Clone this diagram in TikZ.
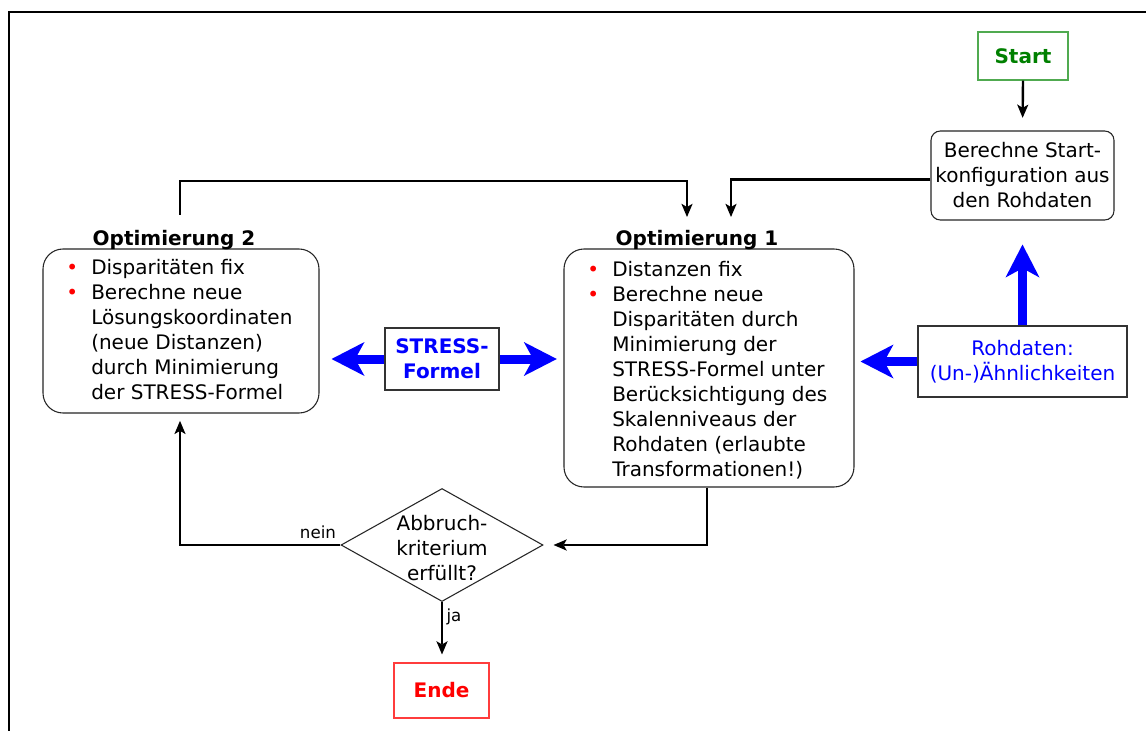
\documentclass[tikz,border=0pt]{standalone}
\usepackage{fontspec}
\setmainfont{DejaVu Sans}
\usetikzlibrary{arrows.meta,shapes.geometric}
\definecolor{myblue}{RGB}{0,0,255}
\definecolor{mygreen}{RGB}{0,128,0}
\definecolor{greenline}{RGB}{80,170,80}
\definecolor{myred}{RGB}{255,0,0}
\definecolor{redline}{RGB}{255,60,60}
\newcommand{\bitem}{\makebox[18.75pt][l]{\textcolor{red}{•}}}
\newcommand{\bcont}{\hspace*{18.75pt}}
\begin{document}
\begin{tikzpicture}[x=0.75pt,y=-0.75pt,
  txt/.style={font=\fontsize{15}{18.75}\selectfont},
  box/.style={draw=black!85, line width=0.8pt, rectangle, inner sep=0pt, txt, align=center},
  conn/.style={draw=black, line width=1.8pt, -{Stealth[length=10pt,width=8.5pt,inset=2.5pt,line width=0pt]}},
  big/.style={draw=myblue, line width=6.75pt, -{Stealth[length=24.75pt,width=25.5pt,inset=7pt,line width=0pt]}},
  lbl/.style={font=\fontsize{12.5}{15}\selectfont, inner sep=0pt},
]
\useasboundingbox (0,0) rectangle (1146,731);
\fill[white] (0,0) rectangle (1146,731);
% frame
\draw[line width=1.6pt] (9.3,731) -- (9.3,11.8) -- (1146,11.8);

% nodes
\node[box, draw=greenline, text=mygreen, font=\fontsize{15}{18.75}\selectfont\bfseries,
      minimum width=67.5pt, minimum height=36pt] (start) at (1023,56) {Start};
\node[box, rounded corners=7pt, minimum width=137.25pt, minimum height=66.75pt] (calc) at (1022.5,175.5)
  {Berechne Start-\\konfiguration aus\\den Rohdaten};

\node[box, rounded corners=15pt, minimum width=207pt, minimum height=123pt] (opt2) at (181,331) {};
\node[box, rounded corners=15pt, minimum width=217.5pt, minimum height=178.5pt] (opt1) at (709,368) {};

\node[txt, font=\fontsize{15}{18.75}\selectfont\bfseries, anchor=base, inner sep=0pt] (t2) at (174,245) {Optimierung 2};
\node[txt, font=\fontsize{15}{18.75}\selectfont\bfseries, anchor=base, inner sep=0pt] (t1) at (697,245) {Optimierung 1};

\node[txt, anchor=base west, inner sep=0pt] (o2txt) at (66,274) {\parbox[t]{200pt}{%
\bitem Disparitäten fix\\
\bitem Berechne neue\\
\bcont Lösungskoordinaten\\
\bcont (neue Distanzen)\\
\bcont durch Minimierung\\
\bcont der STRESS-Formel}};

\node[txt, anchor=base west, inner sep=0pt] (o1txt) at (587,276) {\parbox[t]{220pt}{%
\bitem Distanzen fix\\
\bitem Berechne neue\\
\bcont Disparitäten durch\\
\bcont Minimierung der\\
\bcont STRESS-Formel unter\\
\bcont Berücksichtigung des\\
\bcont Skalenniveaus der\\
\bcont Rohdaten (erlaubte\\
\bcont Transformationen!)}};

\node[box, line width=1.1pt, draw=black!80, text=myblue, font=\fontsize{15}{18.75}\selectfont\bfseries,
      minimum width=85.5pt, minimum height=46.5pt] (stress) at (442,359) {STRESS-\\Formel};
\node[box, line width=1.1pt, draw=black!80, text=myblue,
      minimum width=156.75pt, minimum height=53.25pt] (roh) at (1022.5,361.5) {Rohdaten:\\(Un-)Ähnlichkeiten};

\node[diamond, draw=black!85, line width=0.8pt, inner sep=0pt, minimum width=151.5pt, minimum height=84.75pt] (dec) at (442,545) {};
\node[txt, align=center, inner sep=0pt] (dectxt) at (442,548) {Abbruch-\\kriterium\\erfüllt?};

\node[box, draw=redline, text=myred, font=\fontsize{15}{18.75}\selectfont\bfseries,
      minimum width=71.25pt, minimum height=41.25pt] (ende) at (441.5,690.5) {Ende};

\node[lbl] (nein) at (318,532) {nein};
\node[lbl] (ja) at (454,617) {ja};

% coordinates
\coordinate (o2up) at (180,215);
\coordinate (k1) at (180,181);
\coordinate (k2) at (687,181);
\coordinate (c2) at (687,217);
\coordinate (c1) at (731,217);

% black connectors
\draw[conn, shorten >=9.5pt] (start.south) -- (calc.north);
\draw[conn] ([yshift=-3pt]calc.west) -| (c1);
\draw[conn] (o2up) -- (k1) -- (k2) -- (c2);
\draw[conn, shorten >=7.5pt] ([xshift=-1.5pt]opt1.south) |- (dec.east);
\draw[conn, shorten >=5.5pt] (dec.west) -| ([xshift=-0.75pt]opt2.south);
\draw[conn, shorten >=6pt] (dec.south) -- (dec.south |- ende.north);

% blue arrows
\draw[big, shorten >=9pt] (stress.west) -- (opt2.east |- stress.west);
\draw[big, shorten >=5pt] (stress.east) -- (opt1.west |- stress.east);
\draw[big, shorten >=4.5pt] (roh.west) -- (opt1.east |- roh.west);
\draw[big, shorten >=18pt] (roh.north) -- (calc.south);
\end{tikzpicture}
\end{document}
